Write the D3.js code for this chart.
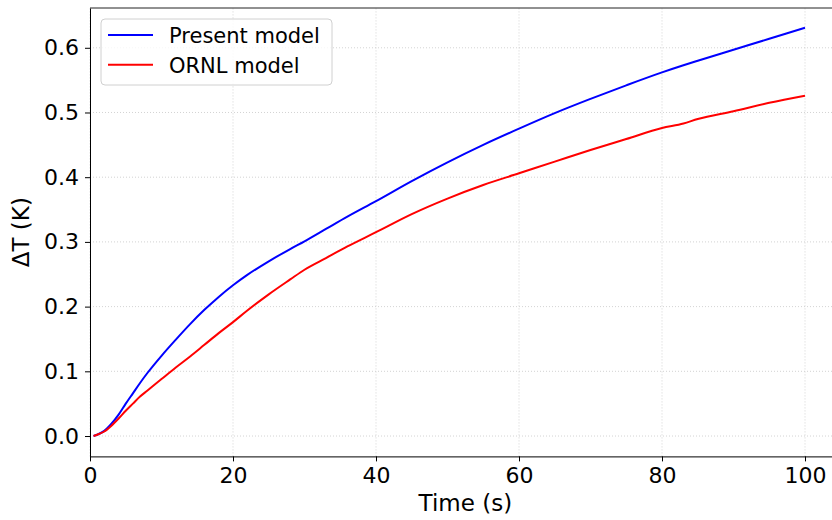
<!DOCTYPE html>
<html>
<head>
<meta charset="utf-8">
<script src="https://cdn.jsdelivr.net/npm/d3@7"></script>
<style>
  body { margin: 0; background: #fff; }
  svg { font-family: "DejaVu Sans", sans-serif; }
</style>
</head>
<body>
<svg id="svg" width="832" height="520"></svg>
<script>
// time points (s)
var time = [0.5, 1, 2, 3, 4, 5, 6, 7, 8, 10, 12, 14, 16, 18, 20, 22, 25, 28, 30, 33, 36,
            40, 45, 50, 55, 60, 65, 70, 75, 80, 83, 85, 90, 95, 100];
// present model, delta T (K)
var present = [0, 0.002, 0.008, 0.019, 0.033, 0.050, 0.066, 0.082, 0.097, 0.124, 0.149, 0.173,
               0.195, 0.215, 0.233, 0.249, 0.270, 0.289, 0.301, 0.320, 0.339,
               0.363, 0.394, 0.423, 0.450, 0.475, 0.499, 0.521, 0.542, 0.562, 0.573, 0.580, 0.597, 0.614, 0.631];
// ORNL model, delta T (K)
var ornl = [0, 0.002, 0.007, 0.016, 0.027, 0.039, 0.050, 0.061, 0.070, 0.088, 0.106, 0.123,
            0.141, 0.159, 0.176, 0.194, 0.219, 0.242, 0.257, 0.275, 0.293,
            0.315, 0.343, 0.367, 0.388, 0.406, 0.424, 0.442, 0.459, 0.476, 0.483, 0.490, 0.502, 0.515, 0.526];
var xTicks = [0, 20, 40, 60, 80, 100];
var yTicks = [0, 0.1, 0.2, 0.3, 0.4, 0.5, 0.6];
var seriesNames = ["Present model", "ORNL model"];
var seriesColors = ["#0000ff", "#ff0000"];

var svg = d3.select("#svg");

// axes box; right side runs past the picture edge like the original
var x = d3.scaleLinear().domain([0, 105]).range([90, 840.75]);
var y = d3.scaleLinear().domain([-0.0315, 0.6615]).range([456.4, 8]);

// grid
var grid = svg.append("g");
grid.selectAll(".gx").data(xTicks).enter().append("line")
    .attr("x1", d => x(d)).attr("x2", d => x(d))
    .attr("y1", y.range()[0]).attr("y2", y.range()[1])
    .attr("stroke", "#c8c8c8").attr("stroke-width", 0.8).attr("stroke-dasharray", "1,2");
grid.selectAll(".gy").data(yTicks).enter().append("line")
    .attr("x1", x.range()[0]).attr("x2", x.range()[1])
    .attr("y1", d => y(d)).attr("y2", d => y(d))
    .attr("stroke", "#c8c8c8").attr("stroke-width", 0.8).attr("stroke-dasharray", "1,2");

// lines
var line = d3.line().curve(d3.curveMonotoneX);
[present, ornl].forEach(function(vals, i) {
    svg.append("path")
        .attr("d", line(time.map((t, j) => [x(t), y(vals[j])])))
        .attr("fill", "none")
        .attr("stroke", seriesColors[i])
        .attr("stroke-width", 2);
});

// axes
var xAxis = svg.append("g")
    .attr("transform", "translate(0," + y.range()[0] + ")")
    .call(d3.axisBottom(x).tickValues(xTicks).tickFormat(d3.format("d")).tickSizeInner(5).tickSizeOuter(0).tickPadding(6));
var yAxis = svg.append("g")
    .attr("transform", "translate(" + x.range()[0] + ",0)")
    .call(d3.axisLeft(y).tickValues(yTicks).tickFormat(d3.format(".1f")).tickSizeInner(5).tickSizeOuter(0).tickPadding(6));
[xAxis, yAxis].forEach(function(a) {
    a.selectAll("text").attr("font-size", 22).attr("fill", "#000").attr("font-family", "DejaVu Sans");
    a.select(".domain").attr("stroke", "#000").attr("stroke-width", 1);
    a.selectAll(".tick line").attr("stroke", "#000").attr("stroke-width", 1);
});
// top spine
svg.append("line")
    .attr("x1", x.range()[0]).attr("x2", x.range()[1])
    .attr("y1", y.range()[1]).attr("y2", y.range()[1])
    .attr("stroke", "#222").attr("stroke-width", 1);

// axis labels
svg.append("text")
    .attr("x", (x.range()[0] + x.range()[1]) / 2).attr("y", 511)
    .attr("text-anchor", "middle").attr("font-size", 23)
    .text("Time (s)");
svg.append("text")
    .attr("transform", "translate(29," + ((y.range()[0] + y.range()[1]) / 2) + ") rotate(-90)")
    .attr("text-anchor", "middle").attr("font-size", 23)
    .text("ΔT (K)");

// legend
var legend = svg.append("g");
legend.append("rect")
    .attr("x", 101).attr("y", 19).attr("width", 231).attr("height", 66)
    .attr("rx", 4).attr("fill", "#fff").attr("fill-opacity", 0.8)
    .attr("stroke", "#d0d0d0").attr("stroke-width", 1);
seriesNames.forEach(function(name, i) {
    var ly = 35 + i * 29.7;
    legend.append("line")
        .attr("x1", 108).attr("x2", 153).attr("y1", ly).attr("y2", ly)
        .attr("stroke", seriesColors[i]).attr("stroke-width", 2);
    legend.append("text")
        .attr("x", 169).attr("y", ly + 8)
        .attr("font-size", 21).attr("fill", "#000")
        .text(name);
});
</script>
</body>
</html>
